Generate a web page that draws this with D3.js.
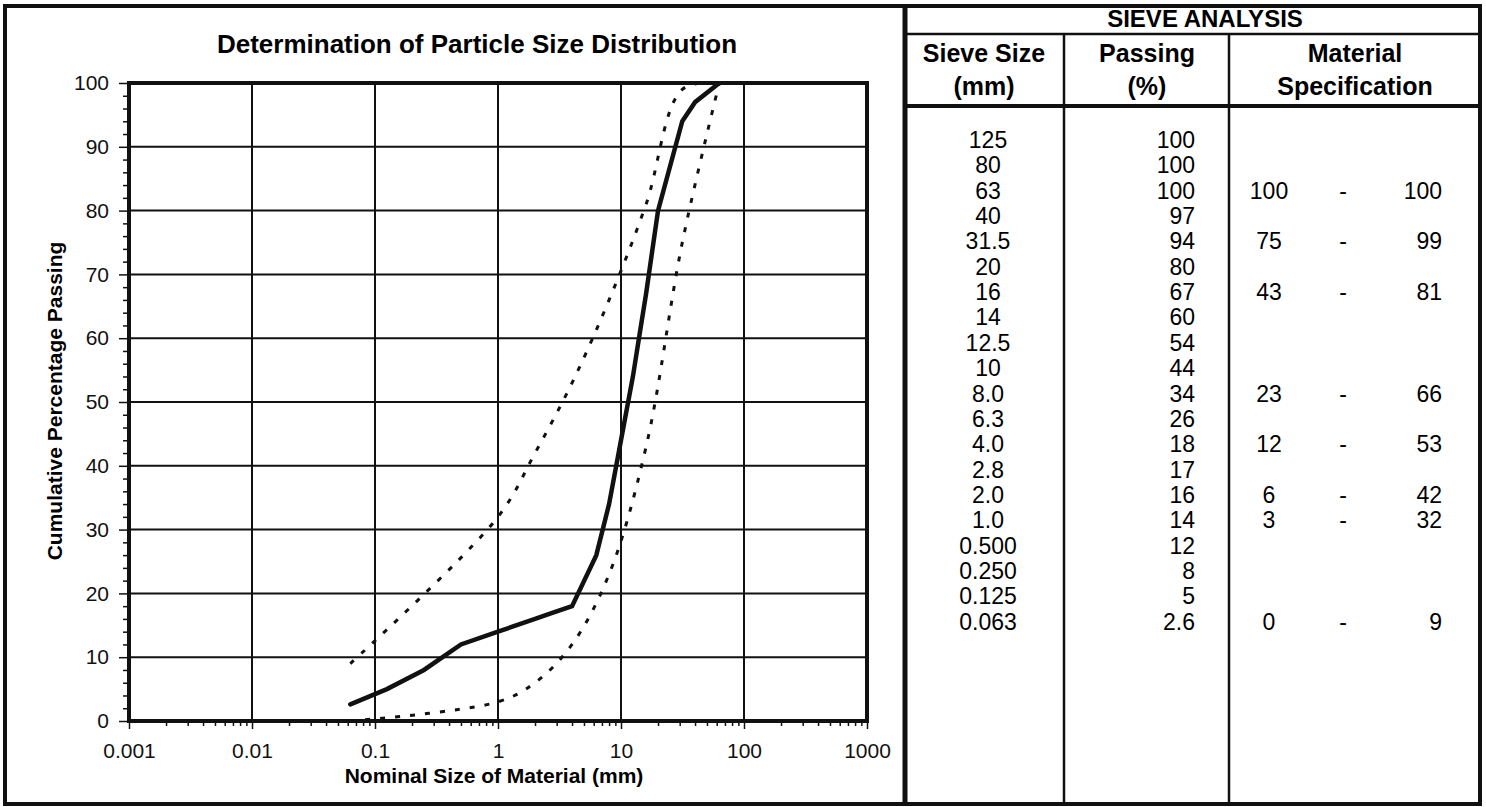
<!DOCTYPE html>
<html>
<head>
<meta charset="utf-8">
<script src="https://cdn.jsdelivr.net/npm/d3@7"></script>
<style>
  body { margin: 0; background: #fff; }
  svg { display: block; font-family: "Liberation Sans", Arial, sans-serif; }
</style>
</head>
<body>
<div id="page"></div>
<script>
/* Sieve analysis data */
var sieveSizes = ["125", "80", "63", "40", "31.5", "20", "16", "14", "12.5", "10",
  "8.0", "6.3", "4.0", "2.8", "2.0", "1.0", "0.500", "0.250", "0.125", "0.063"];
var passing = [100, 100, 100, 97, 94, 80, 67, 60, 54, 44,
  34, 26, 18, 17, 16, 14, 12, 8, 5, 2.6];
var specLower = [null, null, 100, null, 75, null, 43, null, null, null,
  23, null, 12, null, 6, 3, null, null, null, 0];
var specUpper = [null, null, 100, null, 99, null, 81, null, null, null,
  66, null, 53, null, 42, 32, null, null, null, 9];

var xTickValues = [0.001, 0.01, 0.1, 1, 10, 100, 1000];
var xTickLabels = ["0.001", "0.01", "0.1", "1", "10", "100", "1000"];
var yTickValues = [0, 10, 20, 30, 40, 50, 60, 70, 80, 90, 100];

var width = 1486;
var height = 807;
var plot = {left: 129, right: 867, top: 83, bottom: 721};
var table = {left: 905, right: 1480, titleLine: 34, headLine: 106,
  col1: 1064, col2: 1229};

var svg = d3.select("#page").append("svg")
  .attr("width", width)
  .attr("height", height);

var xScale = d3.scaleLog()
  .domain([0.001, 1000])
  .range([plot.left, plot.right]);
var yScale = d3.scaleLinear()
  .domain([0, 100])
  .range([plot.bottom, plot.top]);

/* outer frame of the sheet */
svg.append("rect")
  .attr("x", 5).attr("y", 6)
  .attr("width", table.right - 5).attr("height", 798)
  .attr("fill", "none")
  .attr("stroke", "#111")
  .attr("stroke-width", 4);

/* ---------- chart ---------- */
svg.append("text")
  .attr("x", 477)
  .attr("y", 53)
  .attr("text-anchor", "middle")
  .style("font-weight", "bold")
  .style("font-size", "26px")
  .text("Determination of Particle Size Distribution");

// grid
var grid = svg.append("g").attr("class", "grid");
grid.selectAll("line.v")
  .data(xTickValues.slice(1, -1))
  .enter().append("line")
    .attr("class", "v")
    .attr("x1", (d) => xScale(d)).attr("x2", (d) => xScale(d))
    .attr("y1", plot.top).attr("y2", plot.bottom)
    .attr("stroke", "#111").attr("stroke-width", 2);
grid.selectAll("line.h")
  .data(yTickValues.slice(1, -1))
  .enter().append("line")
    .attr("class", "h")
    .attr("x1", plot.left).attr("x2", plot.right)
    .attr("y1", (d) => yScale(d)).attr("y2", (d) => yScale(d))
    .attr("stroke", "#111").attr("stroke-width", 2);

// spec envelope (smoothed, dotted)
function specPoints(limits) {
  var pts = [];
  for (var i = 0; i < sieveSizes.length; i++) {
    if (limits[i] != null) {
      pts.push({size: +sieveSizes[i], value: limits[i]});
    }
  }
  return pts.sort((a, b) => a.size - b.size);
}

var specLine = d3.line()
  .x((d) => xScale(d.size))
  .y((d) => yScale(d.value))
  .curve(d3.curveCatmullRom.alpha(0.5));

svg.append("clipPath")
  .attr("id", "plot-clip")
  .append("rect")
    .attr("x", plot.left).attr("y", plot.top)
    .attr("width", plot.right - plot.left)
    .attr("height", plot.bottom - plot.top);

var lines = svg.append("g").attr("clip-path", "url(#plot-clip)");

[specLower, specUpper].forEach(function (limits) {
  lines.append("path")
    .datum(specPoints(limits))
    .attr("d", specLine)
    .attr("fill", "none")
    .attr("stroke", "#111")
    .attr("stroke-width", 3)
    .attr("stroke-dasharray", "5,10");
});

// grading curve, cut where it first reaches 100 %
var gradePoints = sieveSizes.map((s, i) => ({size: +s, value: passing[i]}))
  .sort((a, b) => a.size - b.size);
var firstFull = gradePoints.findIndex((d) => d.value >= 100);
gradePoints = gradePoints.slice(0, firstFull + 1);

lines.append("path")
  .datum(gradePoints)
  .attr("d", d3.line()
    .x((d) => xScale(d.size))
    .y((d) => yScale(d.value)))
  .attr("fill", "none")
  .attr("stroke", "#111")
  .attr("stroke-width", 4.5)
  .attr("stroke-linejoin", "miter")
  .attr("stroke-linecap", "round");

// plot frame
svg.append("rect")
  .attr("x", plot.left).attr("y", plot.top)
  .attr("width", plot.right - plot.left)
  .attr("height", plot.bottom - plot.top)
  .attr("fill", "none")
  .attr("stroke", "#111")
  .attr("stroke-width", 4);

// y axis
var yAxis = d3.axisLeft(yScale)
  .tickValues(yTickValues)
  .tickSize(10)
  .tickPadding(10);
var yMinor = d3.axisLeft(yScale)
  .tickValues(d3.range(0, 101, 2).filter((d) => d % 10 !== 0))
  .tickSize(6)
  .tickFormat("");
svg.append("g")
  .attr("transform", "translate(" + plot.left + ",0)")
  .call(yMinor);
svg.append("g")
  .attr("transform", "translate(" + plot.left + ",0)")
  .call(yAxis);

// x axis
var xAxis = d3.axisBottom(xScale)
  .tickValues(xTickValues)
  .tickSize(8)
  .tickPadding(14)
  .tickFormat((d, i) => xTickLabels[i]);
var xMinor = d3.axisBottom(xScale)
  .tickValues(xScale.ticks().filter((d) => xTickValues.indexOf(d) < 0))
  .tickSize(5)
  .tickFormat("");
svg.append("g")
  .attr("transform", "translate(0," + plot.bottom + ")")
  .call(xMinor);
svg.append("g")
  .attr("transform", "translate(0," + plot.bottom + ")")
  .call(xAxis);

svg.selectAll(".domain").remove();
svg.selectAll(".tick line")
  .attr("stroke", "#111")
  .attr("stroke-width", 1.5);
svg.selectAll(".tick text")
  .attr("fill", "#111")
  .style("font-size", "21px")
  .style("font-family", "'Liberation Sans', Arial, sans-serif");

// axis titles
svg.append("text")
  .attr("x", 494)
  .attr("y", 783)
  .attr("text-anchor", "middle")
  .style("font-weight", "bold")
  .style("font-size", "21px")
  .text("Nominal Size of Material (mm)");
svg.append("text")
  .attr("transform", "translate(62,401) rotate(-90)")
  .attr("text-anchor", "middle")
  .style("font-weight", "bold")
  .style("font-size", "21px")
  .text("Cumulative Percentage Passing");

/* ---------- sieve analysis table ---------- */
var tbl = svg.append("g").attr("class", "table");

tbl.append("line")
  .attr("x1", table.left).attr("x2", table.left)
  .attr("y1", 4).attr("y2", 806)
  .attr("stroke", "#111").attr("stroke-width", 5);
tbl.append("line")
  .attr("x1", table.left).attr("x2", table.right)
  .attr("y1", table.titleLine).attr("y2", table.titleLine)
  .attr("stroke", "#111").attr("stroke-width", 2.5);
tbl.append("line")
  .attr("x1", table.left).attr("x2", table.right)
  .attr("y1", table.headLine).attr("y2", table.headLine)
  .attr("stroke", "#111").attr("stroke-width", 4);
[table.col1, table.col2].forEach(function (cx) {
  tbl.append("line")
    .attr("x1", cx).attr("x2", cx)
    .attr("y1", table.titleLine).attr("y2", 804)
    .attr("stroke", "#111").attr("stroke-width", 2.5);
});

tbl.append("text")
  .attr("x", 1205).attr("y", 27)
  .attr("text-anchor", "middle")
  .style("font-weight", "bold")
  .style("font-size", "24px")
  .text("SIEVE ANALYSIS");

var headers = [
  {x: 984, lines: ["Sieve Size", "(mm)"]},
  {x: 1147, lines: ["Passing", "(%)"]},
  {x: 1355, lines: ["Material", "Specification"]}
];
headers.forEach(function (h) {
  h.lines.forEach(function (txt, i) {
    tbl.append("text")
      .attr("x", h.x).attr("y", 62 + i * 33)
      .attr("text-anchor", "middle")
      .style("font-weight", "bold")
      .style("font-size", "25px")
      .text(txt);
  });
});

var rowY = d3.scalePoint()
  .domain(sieveSizes)
  .range([140, 621.7]);

var rows = tbl.selectAll("g.row")
  .data(sieveSizes)
  .enter().append("g")
    .attr("class", "row")
    .attr("transform", (d) => "translate(0," + rowY(d) + ")")
    .style("font-size", "23px")
    .attr("dominant-baseline", "central");

rows.append("text")
  .attr("x", 988)
  .attr("text-anchor", "middle")
  .attr("dominant-baseline", "central")
  .text((d) => d);
rows.append("text")
  .attr("x", 1195)
  .attr("text-anchor", "end")
  .attr("dominant-baseline", "central")
  .text((d, i) => String(passing[i]));

rows.filter((d, i) => specLower[i] != null).each(function (d) {
  var i = sieveSizes.indexOf(d);
  var row = d3.select(this);
  row.append("text")
    .attr("x", 1269)
    .attr("text-anchor", "middle")
    .attr("dominant-baseline", "central")
    .text(specLower[i]);
  row.append("text")
    .attr("x", 1343)
    .attr("text-anchor", "middle")
    .attr("dominant-baseline", "central")
    .text("-");
  row.append("text")
    .attr("x", 1442)
    .attr("text-anchor", "end")
    .attr("dominant-baseline", "central")
    .text(specUpper[i]);
});
</script>
</body>
</html>
